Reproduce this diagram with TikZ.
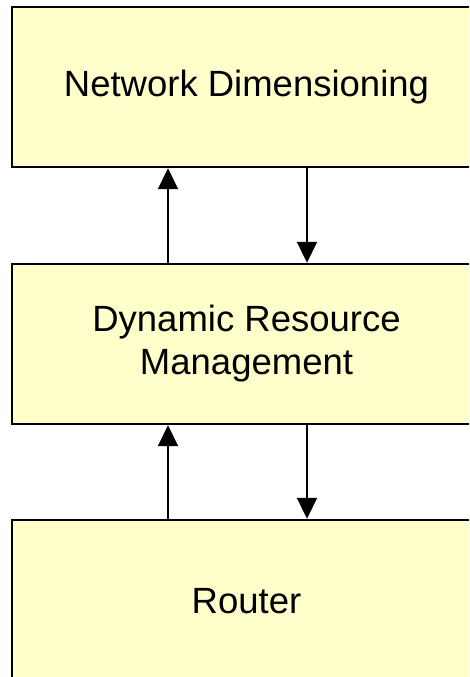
\documentclass[tikz,border=0pt]{standalone}
\usepackage{fontspec}
\setmainfont{Liberation Sans}
\usetikzlibrary{arrows.meta}
\definecolor{boxfill}{HTML}{FFFFCC}
\begin{document}
\begin{tikzpicture}[x=1pt,y=1pt,
  blockbox/.style={draw=black, line width=2.4pt, fill=boxfill, minimum width=469pt, minimum height=160pt, inner sep=0pt, align=center, font=\fontsize{36.5}{43}\selectfont},
  arr/.style={line width=1.8pt, -{Triangle[width=20pt,length=21pt]}}]
\useasboundingbox (0,0) rectangle (469,677);
\clip (0,0) rectangle (469,677);
\node[blockbox] (top) at (246.5,590) {Network Dimensioning};
\node[blockbox] (mid) at (246.5,333) {Dynamic Resource\\Management};
\node[blockbox, minimum height=162pt] (bot) at (246.5,76) {Router};
\coordinate (xl) at (168,0);
\coordinate (xr) at (307,0);
\draw[arr] (mid.north -| xl) -- (top.south -| xl);
\draw[arr] (top.south -| xr) -- (mid.north -| xr);
\draw[arr] (bot.north -| xl) -- (mid.south -| xl);
\draw[arr] (mid.south -| xr) -- (bot.north -| xr);
\end{tikzpicture}
\end{document}
